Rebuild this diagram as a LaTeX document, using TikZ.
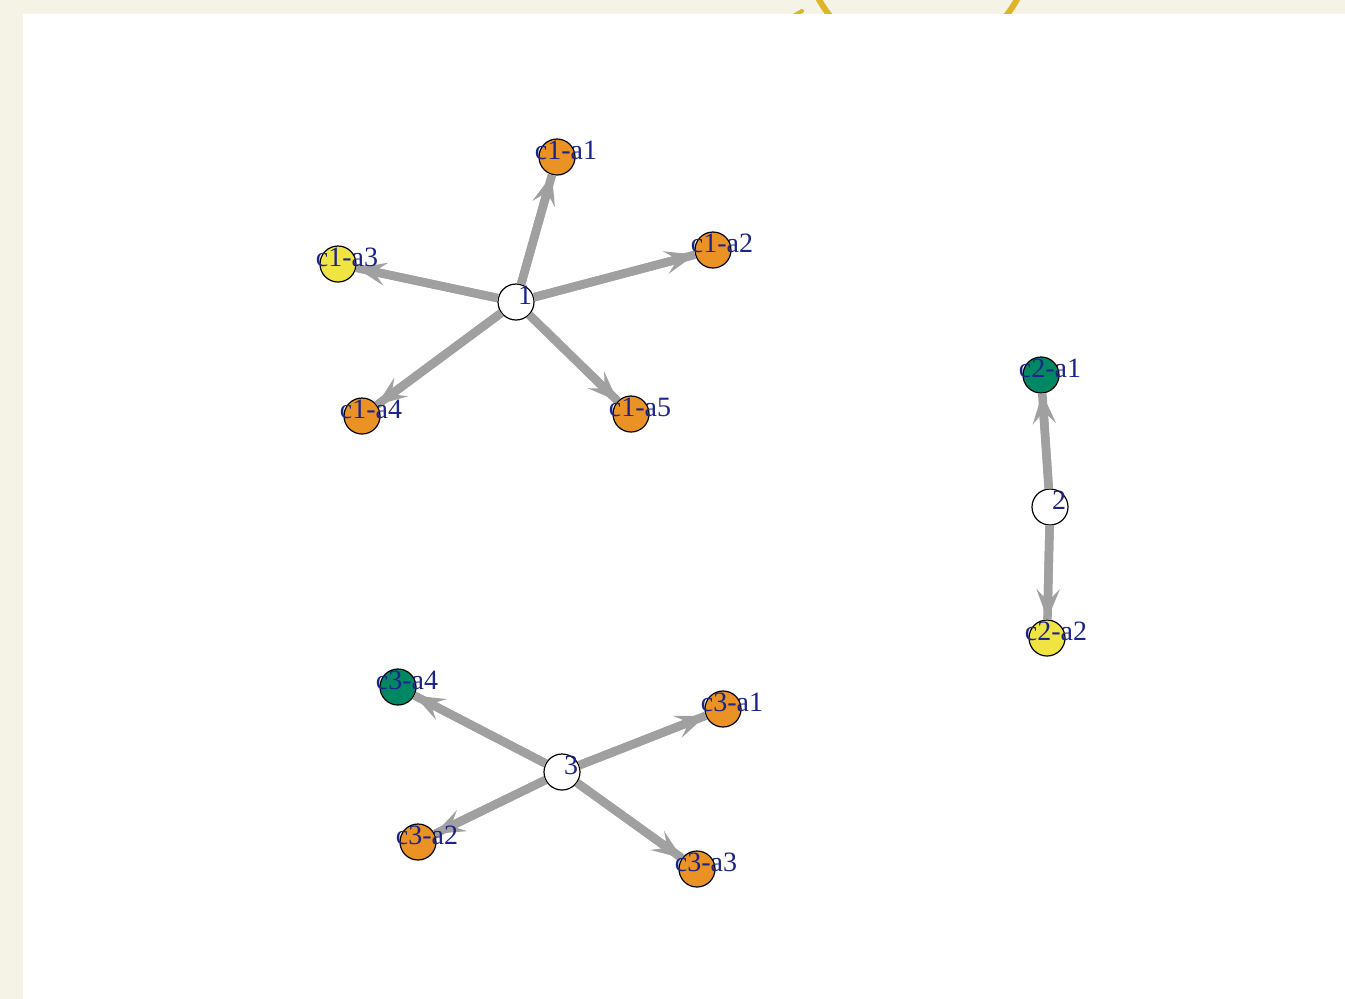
\documentclass[tikz,border=0pt]{standalone}
\usepackage{fontspec}
\setmainfont{Liberation Serif}
\usetikzlibrary{arrows.meta,calc}
\definecolor{bgbeige}{RGB}{245,243,230}
\definecolor{vorange}{RGB}{234,146,35}
\definecolor{vyellow}{RGB}{240,228,66}
\definecolor{vgreen}{RGB}{0,136,100}
\definecolor{edgegrey}{RGB}{160,160,160}
\definecolor{labblue}{RGB}{28,36,135}
\definecolor{gold}{RGB}{222,180,40}
\tikzset{
  vtx/.style={circle, draw=black, line width=1.2pt, minimum size=36pt, inner sep=0pt},
  hub/.style={vtx, fill=white},
  orng/.style={vtx, fill=vorange},
  yllw/.style={vtx, fill=vyellow},
  grn/.style={vtx, fill=vgreen},
  lab/.style={text=labblue, font=\fontsize{28}{30}\selectfont, inner sep=0pt, anchor=center},
  edgline/.style={draw=edgegrey, line width=8.5pt},
  edg/.style={draw=edgegrey, line width=8.5pt, -{Stealth[length=30pt,width=23pt,inset=12pt]}}
}
\begin{document}
\begin{tikzpicture}[x=1pt,y=-1pt]
\useasboundingbox (0,0) rectangle (1345,999);
\begin{scope}
\clip (0,0) rectangle (1345,999);
\fill[bgbeige] (0,0) rectangle (1345,999);
\draw[gold, line width=6pt] (918,-55) circle[radius=113];
\draw[gold, line width=4pt, line cap=round] (795,15) -- (802,11);
\fill[white] (23,14) rectangle (1345,999);
\end{scope}
% nodes
\node[hub] (n1) at (516,302) {};
\node[orng] (c1a1) at (557,157) {};
\node[orng] (c1a2) at (713,250) {};
\node[yllw] (c1a3) at (338,264) {};
\node[orng] (c1a4) at (362,416) {};
\node[orng] (c1a5) at (631,414) {};
\node[hub] (n2) at (1050,507) {};
\node[grn] (c2a1) at (1041,375) {};
\node[yllw] (c2a2) at (1047,638) {};
\node[hub] (n3) at (562,772) {};
\node[grn] (c3a4) at (398,687) {};
\node[orng] (c3a1) at (723,709) {};
\node[orng] (c3a2) at (418,842) {};
\node[orng] (c3a3) at (697,869) {};
% edges
\foreach \s/\t in {n1/c1a1,n1/c1a2,n1/c1a3,n1/c1a4,n1/c1a5,n2/c2a1,n2/c2a2,n3/c3a4,n3/c3a1,n3/c3a2,n3/c3a3}{
  \draw[edgline] (\s) -- (\t);
  \draw[edg] (\s) -- (\t);
}
% labels
\node[lab] (l1) at ($(n1)+(9,-7)$) {1};
\node[lab] (lc1a1) at ($(c1a1)+(9,-7)$) {c1-a1};
\node[lab] (lc1a2) at ($(c1a2)+(9,-7)$) {c1-a2};
\node[lab] (lc1a3) at ($(c1a3)+(9,-7)$) {c1-a3};
\node[lab] (lc1a4) at ($(c1a4)+(9,-7)$) {c1-a4};
\node[lab] (lc1a5) at ($(c1a5)+(9,-7)$) {c1-a5};
\node[lab] (l2) at ($(n2)+(9,-7)$) {2};
\node[lab] (lc2a1) at ($(c2a1)+(9,-7)$) {c2-a1};
\node[lab] (lc2a2) at ($(c2a2)+(9,-7)$) {c2-a2};
\node[lab] (l3) at ($(n3)+(9,-7)$) {3};
\node[lab] (lc3a4) at ($(c3a4)+(9,-7)$) {c3-a4};
\node[lab] (lc3a1) at ($(c3a1)+(9,-7)$) {c3-a1};
\node[lab] (lc3a2) at ($(c3a2)+(9,-7)$) {c3-a2};
\node[lab] (lc3a3) at ($(c3a3)+(9,-7)$) {c3-a3};
\end{tikzpicture}
\end{document}
